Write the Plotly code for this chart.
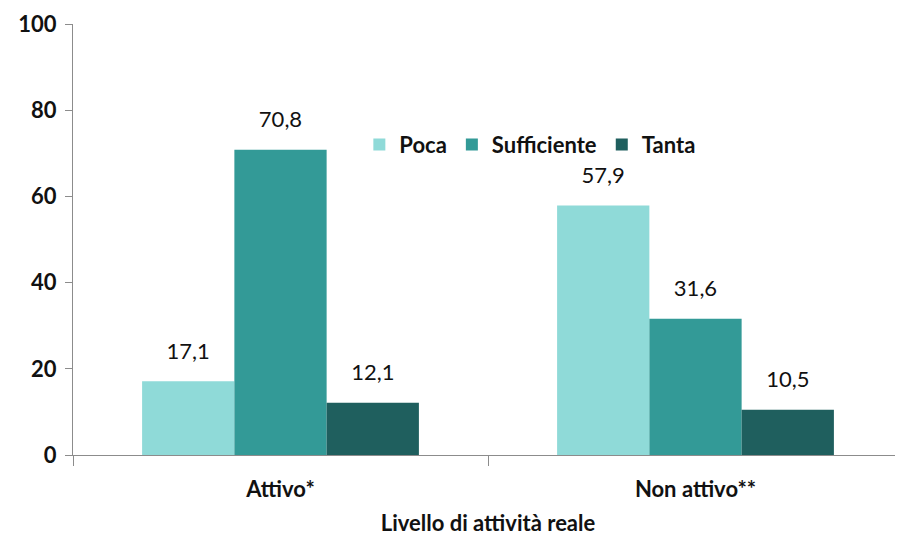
import plotly.graph_objects as go

categories = ['Attivo*', 'Non attivo**']
series_names = ['Poca', 'Sufficiente', 'Tanta']
poca = [17.1, 57.9]
sufficiente = [70.8, 31.6]
tanta = [12.1, 10.5]
colors = ['#8fdad8', '#339a97', '#1f5f5e']

fig = go.Figure()
for name, vals, col in zip(series_names, [poca, sufficiente, tanta], colors):
    fig.add_trace(
        go.Bar(
            x=categories,
            y=vals,
            name=name,
            offsetgroup=name,
            marker={'color': col, 'line': {'width': 0}},
        )
    )

# value labels as grouped text-only scatter, invisible marker adds the gap
for name, vals in zip(series_names, [poca, sufficiente, tanta]):
    fig.add_trace(
        go.Scatter(
            x=categories,
            y=vals,
            offsetgroup=name,
            mode='markers+text',
            marker={'size': 26, 'opacity': 0},
            text=[f'{v:.1f}'.replace('.', ',') for v in vals],
            textposition='top center',
            textfont={'size': 22, 'color': '#111111', 'family': 'Lato'},
            showlegend=False,
            hoverinfo='skip',
            cliponaxis=False,
        )
    )

fig.update_layout(
    width=895,
    height=528,
    barmode='group',
    scattermode='group',
    bargap=0.333,
    bargroupgap=0,
    scattergap=0.333,
    plot_bgcolor='white',
    paper_bgcolor='white',
    margin={'l': 65, 't': 16, 'b': 81, 'r': 0, 'autoexpand': False},
    font={'family': 'Lato', 'color': '#111111'},
    showlegend=True,
    legend={
        'orientation': 'h',
        'x': 0.345,
        'y': 0.72,
        'xanchor': 'left',
        'yanchor': 'middle',
        'font': {'size': 22, 'weight': 'bold'},
        'itemwidth': 30,
        'bgcolor': 'rgba(0,0,0,0)',
    },
    xaxis={
        'title': {'text': '<b>Livello di attività reale</b>', 'font': {'size': 22}, 'standoff': 16},
        'automargin': False,
        'tickfont': {'size': 22, 'weight': 'bold'},
        'ticklabelstandoff': 15,
        'showline': True,
        'linecolor': '#8c8c8c',
        'ticks': 'outside',
        'tickson': 'boundaries',
        'ticklen': 10,
        'tickcolor': '#8c8c8c',
    },
    yaxis={
        'range': [0, 100],
        'dtick': 20,
        'automargin': False,
        'showgrid': False,
        'zeroline': False,
        'showline': True,
        'linecolor': '#8c8c8c',
        'ticks': 'outside',
        'ticklen': 7,
        'tickcolor': '#8c8c8c',
        'ticklabelstandoff': 4,
        'tickfont': {'size': 22, 'weight': 'bold'},
    },
)

fig.write_html('out.html')
